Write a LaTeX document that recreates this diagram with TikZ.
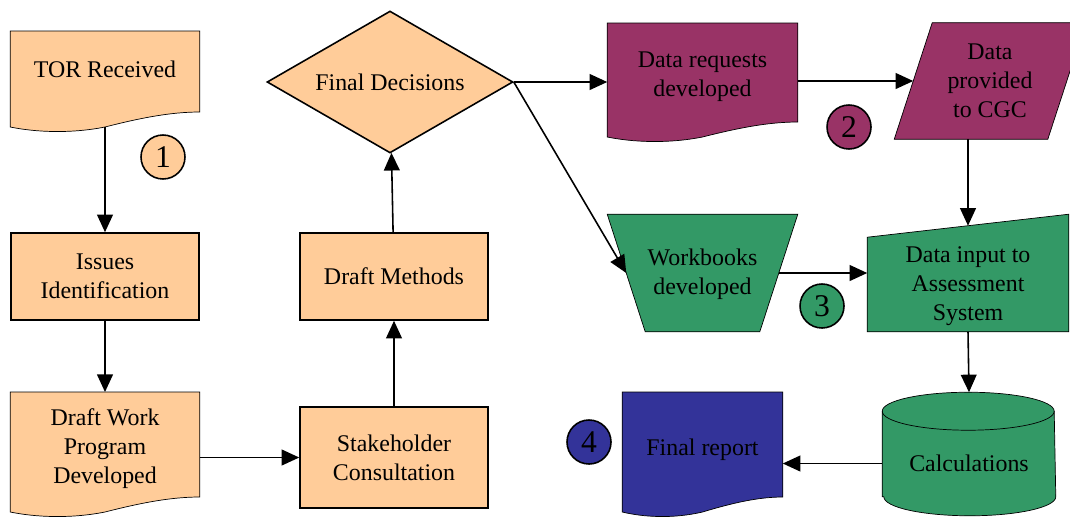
\documentclass[tikz,border=0pt]{standalone}
\usepackage{fontspec}
\setmainfont{Liberation Serif}
\usetikzlibrary{arrows.meta,calc,shapes.geometric,backgrounds}
\definecolor{peach}{HTML}{FFCC99}
\definecolor{plum}{HTML}{993366}
\definecolor{seagreen}{HTML}{339966}
\definecolor{navy}{HTML}{333399}
% document box with wavy bottom, #1 = node, #2 = fill, #3 = height of right side
\newcommand{\docshape}[3]{%
  \coordinate (#1-se) at ($(#1.north east)+(0,#3)$);
  \coordinate (#1-sw) at ($(#1.north west)+(0,#3)$);
  \draw[fill=#2] (#1.north west) -- (#1.north east) -- (#1-se)
    .. controls ($(#1-sw)!0.846!(#1-se)$) and ($(#1-sw)!0.686!(#1-se)+(0,6)$)
    .. ($(#1-sw)!0.5!(#1-se)+(0,15)$) coordinate (#1-w)
    .. controls ($(#1-sw)!0.314!(#1-se)+(0,22)$) and ($(#1-sw)!0.128!(#1-se)+(0,20)$)
    .. ($(#1-sw)+(0,15)$) -- cycle;}

\begin{document}
\begin{tikzpicture}[x=0.02cm, y=-0.02cm, line width=0.9pt,
    >={Triangle[length=10pt,width=9pt]},
    every node/.style={font=\fontsize{13.6}{16.5}\selectfont, align=center, inner sep=0pt},
    box/.style={draw, fill=peach, minimum width=3.76cm, minimum height=1.74cm},
    doc/.style={anchor=north, minimum width=#1},
    num/.style={circle, draw, minimum size=0.88cm, font=\fontsize{18}{20}\selectfont}]
\useasboundingbox (0,0) rectangle (1070,521);

% left column
\node[doc=3.76cm, minimum height=1.52cm] (tor) at (105,31) {TOR Received};
\node[box] (iss) at (105,276.5) {Issues\\Identification};
\node[doc=3.76cm, minimum height=2.24cm] (dwp) at (105,392) {Draft Work\\Program\\Developed};
\node[num, fill=peach] (n1) at (163,157) {1};

% middle column
\node[box, minimum height=2.02cm] (sc) at (394,457.5) {Stakeholder\\Consultation};
\node[box] (dm) at (394,276.5) {Draft Methods};
\node[diamond, draw, fill=peach, aspect=1.73, minimum width=4.92cm, minimum height=2.84cm] (fd) at (390,82) {Final Decisions};

% data requests
\node[doc=3.78cm, minimum height=2.12cm] (dr) at (702.5,23) {Data requests\\developed};
\node[minimum width=2.28cm, minimum height=2.3cm] (dp) at (990,81) {Data\\provided\\to CGC};
\node[num, fill=plum] (n2) at (849,127) {2};

% workbooks
\node[minimum width=3.78cm, minimum height=2.32cm] (wb) at (702.5,274) {Workbooks\\developed};
\node[minimum width=4cm, minimum height=1.86cm] (di) at (968,286) {Data input to\\Assessment\\System};
\node[num, fill=seagreen] (n3) at (822,306) {3};

% outputs
\node[minimum width=3.44cm, minimum height=1.3cm] (calc) at (969,463.5) {Calculations};
\node[doc=3.18cm, minimum height=2.28cm] (fr) at (702.5,392) {Final report};
\node[num, fill=navy] (n4) at (589,442) {4};

\begin{scope}[on background layer]
  \docshape{tor}{peach}{81}
  \docshape{dwp}{peach}{105}
  \docshape{dr}{plum}{99}
  \docshape{fr}{navy}{105}
  \draw[fill=plum] (dp.north west) -- ($(dp.north east)+(38,0)$) -- (dp.south east)
    -- ($(dp.south west)+(-38,0)$) -- cycle;
  \draw[fill=seagreen] ($(wb.north west)+(0,-1)$) -- ($(wb.north east)+(0,-1)$) -- ($(wb.south east)+(-38,-1)$)
    -- ($(wb.south west)+(38,-1)$) -- cycle;
  \draw[fill=seagreen] ($(di.south west)+(0,-1.5)$) -- ($(di.north west)+(0,-1.5)$) -- ($(di.north east)+(0,-24.5)$)
    -- ($(di.south east)+(0,-1.5)$) -- cycle;
  \draw[fill=seagreen] (calc.south west) -- ($(calc.north west)+(0,-19)$)
    arc[start angle=180, end angle=0, x radius=1.72cm, y radius=0.38cm]
    -- (calc.south east) arc[start angle=0, end angle=-180, x radius=1.72cm, y radius=0.38cm] -- cycle;
  \draw ($(calc.north west)+(0,-19)$) arc[start angle=180, end angle=360, x radius=1.72cm, y radius=0.38cm];
\end{scope}

\coordinate (dp-l) at ($(dp.west)+(-19,0)$);
\coordinate (wb-l) at ($(wb.west)+(19,-1)$);
\coordinate (wb-r) at ($(wb.east)+(-19,-1)$);
\coordinate (di-t) at ($(di.north)+(0,-13)$);
\coordinate (calc-t) at ($(calc.north)+(0,-38)$);

% connectors
\draw[->] (tor-w) -- (iss);
\draw[->] (iss) -- (dwp);
\draw[->] (dwp.east |- sc.west) -- (sc.west);
\draw[->] (sc) -- (dm);
\draw[->] (dm) -- (fd);
\draw[->] (fd.east) -- (fd.east -| dr.west);
\draw[->] (fd.east) -- (wb-l);
\draw[->] (dr.east |- dp-l) -- (dp-l);
\draw[->] (di-t |- dp.south) -- (di-t);
\draw[->] (wb-r) -- (wb-r -| di.west);
\draw[->] ($(di.south)+(0,-1.5)$) -- (calc-t);
\draw[->] (calc.west) -- (calc.west -| fr.east);
\end{tikzpicture}
\end{document}
